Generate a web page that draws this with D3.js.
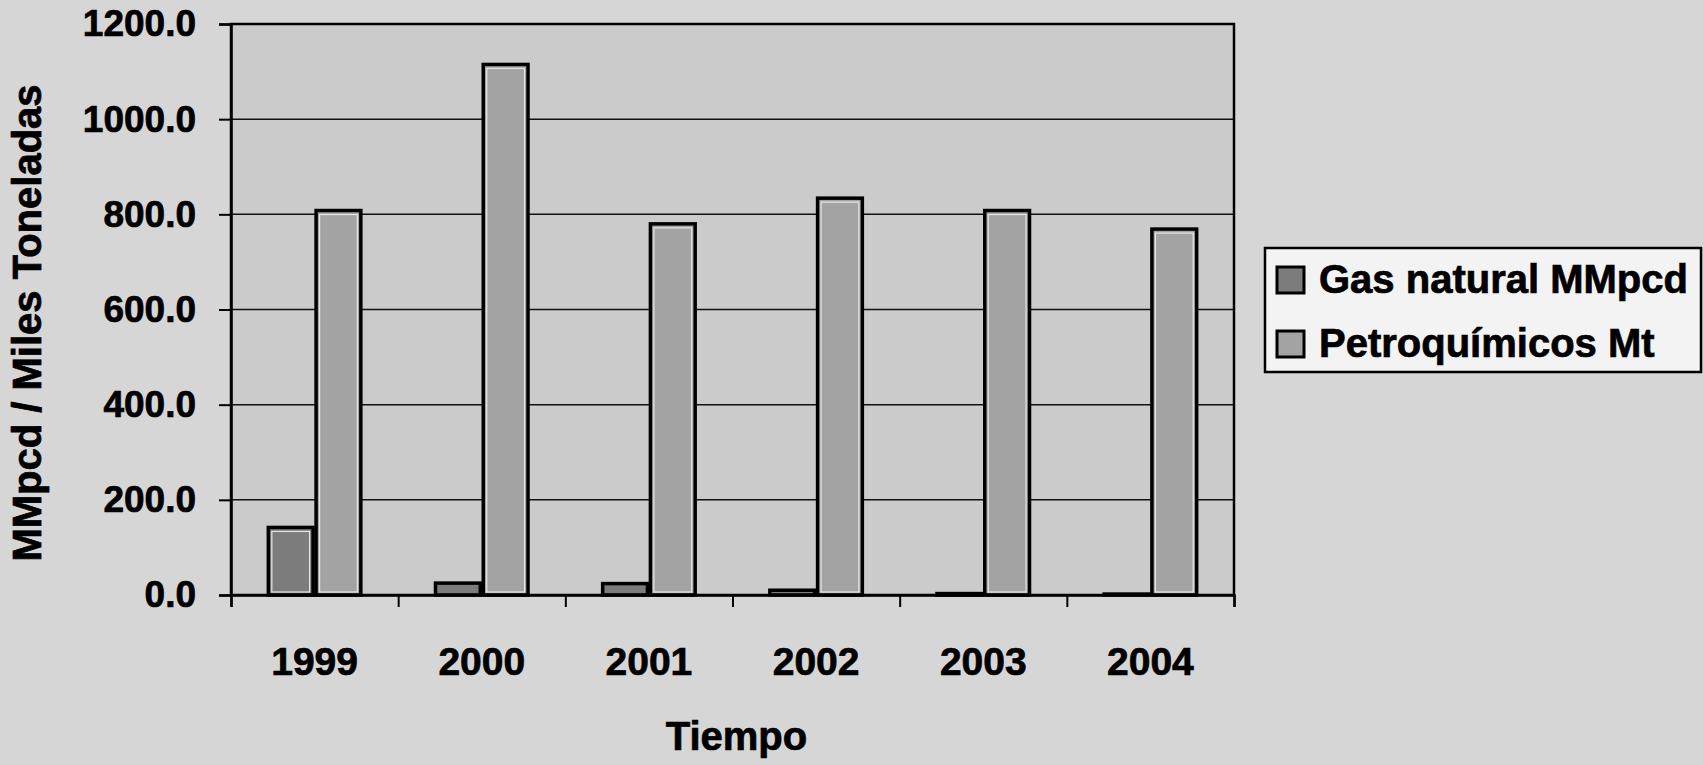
<!DOCTYPE html>
<html><head><meta charset="utf-8">
<script src="https://cdn.jsdelivr.net/npm/d3@7"></script>
<style>
html,body{margin:0;padding:0;background:#d6d6d6;}
svg{display:block;}
text{font-family:"Liberation Sans",Arial,sans-serif;font-weight:bold;fill:#000;stroke:#000;stroke-width:0.7px;}
</style>
</head><body>
<svg id="chart" width="1703" height="765"></svg>
<script>
// ---- data ----
const years = ["1999", "2000", "2001", "2002", "2003", "2004"];
const gasNatural = [142, 25, 24, 10, 3, 2];
const petroquimicos = [808, 1115, 780, 834, 808, 769];
const seriesNames = ["Gas natural MMpcd", "Petroquímicos Mt"];
const yTicks = [0, 200, 400, 600, 800, 1000, 1200];
const yTitle = "MMpcd / Miles Toneladas";
const xTitle = "Tiempo";

const W = 1703, H = 765;
const m = {top: 24, right: 469, bottom: 170, left: 231};
const seriesColors = ["#7c7c7c", "#a3a3a3"];

const svg = d3.select("#chart");

const x = d3.scaleBand().domain(years).range([m.left, W - m.right]).paddingInner(0).paddingOuter(0);
const xs = d3.scaleBand().domain([0, 1]).range([0, x.bandwidth()]).paddingInner(0).paddingOuter(0.75);
const y = d3.scaleLinear().domain([0, 1200]).range([H - m.bottom, m.top]);
const xIdx = d3.scaleLinear().domain([0, years.length]).range([m.left, W - m.right]);

// plot background
svg.append("rect")
  .attr("x", m.left).attr("y", m.top)
  .attr("width", W - m.left - m.right).attr("height", H - m.top - m.bottom)
  .attr("fill", "#cbcbcb");

// gridlines
svg.append("g").selectAll("line").data(yTicks.filter(d => d > 0 && d < 1200)).join("line")
  .attr("x1", m.left).attr("x2", W - m.right)
  .attr("y1", d => y(d)).attr("y2", d => y(d))
  .attr("stroke", "#111").attr("stroke-width", 1.5);

// bars
const rows = years.map((yr, i) => ({year: yr, vals: [gasNatural[i], petroquimicos[i]]}));
const grp = svg.append("g").selectAll("g").data(rows).join("g")
  .attr("transform", d => `translate(${x(d.year)},0)`);
const bars = grp.selectAll("g").data(d => d.vals.map((v, k) => ({v, k}))).join("g");
bars.append("rect")
  .attr("x", d => xs(d.k) + 1.5)
  .attr("width", xs.bandwidth() - 3)
  .attr("y", d => y(d.v))
  .attr("height", d => Math.max(0, y(0) - y(d.v)))
  .attr("fill", d => seriesColors[d.k])
  .attr("stroke", "#000").attr("stroke-width", 3.5);
// inner light outline (3-D look of the original)
bars.filter(d => y(0) - y(d.v) > 12).append("rect")
  .attr("x", d => xs(d.k) + 5)
  .attr("width", xs.bandwidth() - 10)
  .attr("y", d => y(d.v) + 4)
  .attr("height", d => Math.max(0, y(0) - y(d.v) - 7))
  .attr("fill", "none")
  .attr("stroke", "#e6e6e6").attr("stroke-width", 1.2);

// plot frame
svg.append("rect")
  .attr("x", m.left).attr("y", m.top)
  .attr("width", W - m.left - m.right).attr("height", H - m.top - m.bottom)
  .attr("fill", "none").attr("stroke", "#000").attr("stroke-width", 2.5);

// y axis
const yAxis = svg.append("g").attr("transform", `translate(${m.left},0)`)
  .call(d3.axisLeft(y).tickValues(yTicks).tickFormat(d3.format(".1f")).tickSize(12).tickPadding(23));
yAxis.select(".domain").attr("stroke-width", 2.5);
yAxis.selectAll(".tick line").attr("stroke-width", 2);
yAxis.selectAll("text").style("font-size", "37px").attr("fill", "#000");

// x axis: boundary ticks
const xTickAxis = svg.append("g").attr("transform", `translate(0,${H - m.bottom})`)
  .call(d3.axisBottom(xIdx).tickValues(d3.range(0, years.length + 1)).tickFormat("").tickSize(12));
xTickAxis.select(".domain").attr("stroke-width", 2.5);
xTickAxis.selectAll(".tick line").attr("stroke-width", 2);

// x axis labels
const xAxis = svg.append("g").attr("transform", `translate(0,${H - m.bottom})`)
  .call(d3.axisBottom(x).tickSize(0).tickPadding(52));
xAxis.select(".domain").remove();
xAxis.selectAll("text").style("font-size", "39px").attr("fill", "#000");

// axis titles
svg.append("text")
  .attr("x", (m.left + W - m.right) / 2 + 4).attr("y", 750)
  .attr("text-anchor", "middle").style("font-size", "40px")
  .text(xTitle);
svg.append("text")
  .attr("transform", "translate(41,323) rotate(-90)")
  .attr("text-anchor", "middle").style("font-size", "40px")
  .text(yTitle);

// legend
const lg = svg.append("g").attr("transform", "translate(1265,248)");
lg.append("rect").attr("width", 436).attr("height", 124)
  .attr("fill", "#f3f3f3").attr("stroke", "#000").attr("stroke-width", 2.5);
const li = lg.selectAll("g").data(seriesNames).join("g")
  .attr("transform", (d, i) => `translate(0,${45 + i * 64})`);
li.append("rect").attr("x", 12).attr("y", -26).attr("width", 27).attr("height", 26)
  .attr("fill", (d, i) => seriesColors[i]).attr("stroke", "#000").attr("stroke-width", 3);
li.append("text").attr("x", 54).attr("y", 0).style("font-size", "40px").text(d => d);
</script>
</body></html>
